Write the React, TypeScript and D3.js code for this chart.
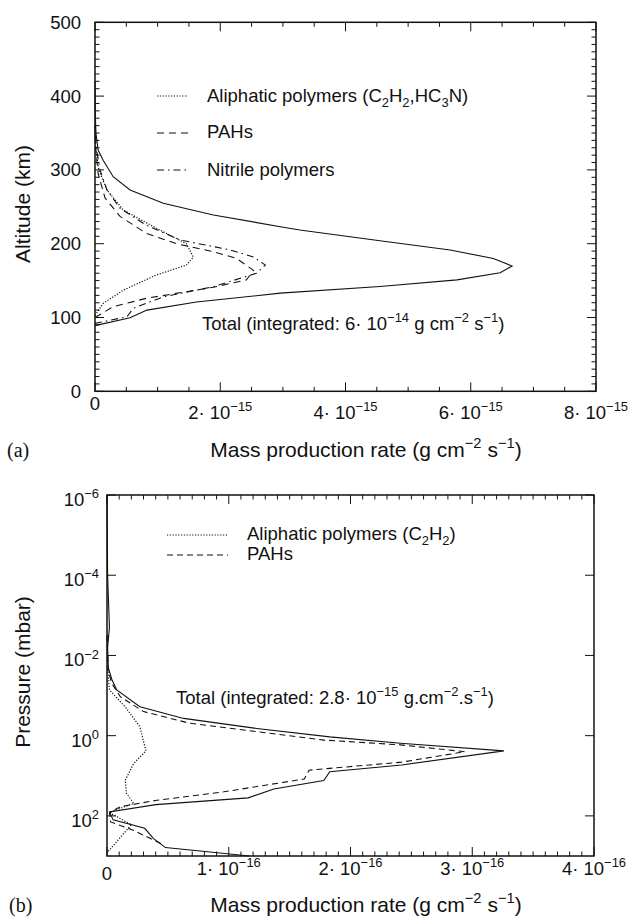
import React from 'react';
import * as d3 from 'd3';

// ---------- Panel (a): altitude vs mass production rate (units 1e-15 g cm-2 s-1) ----------
const altTicksA = [0, 100, 200, 300, 400, 500];
const rateTicksA = [0, 2, 4, 6, 8];

const totalA_rate = [0, 0.56, 0.83, 1.62, 2.96, 4.55, 5.78, 6.47, 6.66, 6.36, 5.67, 4.55, 3.27, 2.96, 1.89, 1.09, 0.56, 0.29, 0.13, 0.05, 0.015, 0.003, 0];
const totalA_alt = [89, 99.7, 110, 121, 133, 142, 151, 160.7, 169.8, 180, 191.5, 204, 218.5, 223, 239, 254.7, 272.8, 290.8, 313, 327, 350, 380, 420];

const nitrileA_rate = [0, 0.51, 0.61, 1.09, 1.89, 2.58, 2.72, 2.53, 2.16, 1.36, 0.82, 0.4, 0.19, 0.08, 0.02, 0];
const nitrileA_alt = [92, 101, 112.5, 128, 141.7, 160, 171, 182, 191.5, 205, 225, 248, 273, 300, 330, 360];

const pahA_rate = [0, 0.29, 0.82, 1.89, 2.42, 2.53, 2.26, 1.9, 1.3, 0.82, 0.4, 0.16, 0.05, 0.01, 0];
const pahA_alt = [100, 114.6, 126, 141, 151, 164, 180, 189, 200, 214, 237, 262, 295, 330, 360];

const aliphA_rate = [0, 0.13, 0.45, 0.98, 1.46, 1.57, 1.46, 0.98, 0.45, 0.19, 0.06, 0.01, 0];
const aliphA_alt = [103, 119, 137, 157.6, 171, 182, 200, 221, 245.7, 273, 300, 330, 360];

// ---------- Panel (b): pressure vs mass production rate (units 1e-16 g cm-2 s-1) ----------
const presTicksB = [-6, -4, -2, 0, 2]; // log10 mbar
const rateTicksB = [0, 1, 2, 3, 4];

const totalB_rate = [0, 0.005, 0.02, 0.005, 0.01, 0.04, 0.08, 0.27, 0.63, 1.23, 1.83, 2.41, 3.26, 2.42, 1.83, 1.78, 1.37, 1.16, 0.4, 0.02, 0.05, 0.31, 0.38, 0.48, 1.17];
const totalB_logP = [-6, -4, -2.7, -2.2, -1.7, -1.4, -1.14, -0.72, -0.43, -0.18, 0.03, 0.19, 0.38, 0.73, 0.9, 1.12, 1.33, 1.55, 1.72, 1.9, 2.1, 2.31, 2.56, 2.79, 3.0];

const pahB_rate = [0, 0.01, 0.04, 0.11, 0.3, 0.68, 1.23, 1.78, 2.41, 2.94, 2.42, 1.66, 1.62, 0.96, 0.41, 0.11, 0.02, 0.03, 0.21, 0.45];
const pahB_logP = [-2.5, -1.6, -1.3, -0.97, -0.6, -0.31, -0.1, 0.11, 0.23, 0.4, 0.66, 0.86, 1.08, 1.4, 1.61, 1.77, 1.92, 2.15, 2.35, 2.7];

const aliphB_rate = [0, 0.01, 0.02, 0.16, 0.27, 0.32, 0.22, 0.15, 0.16, 0.22, 0.1, 0.02, 0.2, 0.12, 0];
const aliphB_logP = [-2.5, -1.5, -1.14, -0.68, -0.22, 0.38, 0.69, 1.11, 1.44, 1.69, 1.82, 1.92, 2.22, 2.5, 2.92];

const FONT = 'Liberation Sans, Arial, Helvetica, sans-serif';
const SERIF = 'Liberation Serif, Times New Roman, serif';

type Part = { t: string; sup?: boolean; sub?: boolean };

function RichText({ x, y, parts, size, anchor = 'start', transform }: { x: number; y: number; parts: Part[]; size: number; anchor?: string; transform?: string }) {
  let cur = 0;
  const small = size * 0.7;
  return (
    <text x={x} y={y} fontSize={size} fontFamily={FONT} textAnchor={anchor} transform={transform} fill="#111">
      {parts.map((p, i) => {
        const target = p.sup ? -size * 0.42 : p.sub ? size * 0.25 : 0;
        const dy = target - cur;
        cur = target;
        return (
          <tspan key={i} dy={dy} fontSize={p.sup || p.sub ? small : size}>
            {p.t}
          </tspan>
        );
      })}
    </text>
  );
}

const DASH = '7,5';
const DOT = '1.2,1.6';
const DASHDOT = '7,4,1.5,4';

export default function App() {
  const xA = d3.scaleLinear().domain([0, 8]).range([95, 596]);
  const yA = d3.scaleLinear().domain([0, 500]).range([391.3, 22.3]);
  const xB = d3.scaleLinear().domain([0, 4]).range([107, 594]);
  const yB = d3.scaleLog().domain([1e-6, 1e3]).range([495, 856]);

  const lineA = d3.line<[number, number]>().x((d) => xA(d[0])).y((d) => yA(d[1]));
  const lineB = d3.line<[number, number]>().x((d) => xB(d[0])).y((d) => yB(Math.pow(10, d[1])));

  const zip = (r: number[], a: number[]) => r.map((v, i) => [v, a[i]] as [number, number]);

  const minorA_x = d3.range(0, 8.001, 0.5);
  const minorA_y = d3.range(0, 500.1, 10);
  const minorB_x = d3.range(0, 4.001, 0.1);

  const [xa0, xa1] = xA.range();
  const [ya0, ya1] = yA.range();
  const [xb0, xb1] = xB.range();
  const [yb0, yb1] = yB.range();

  const tickLen = 9;
  const minorLen = 4.5;
  const TS = 18.5; // tick label size
  const TT = 21; // axis title size
  const AN = 18.5; // annotation size

  const xTitle: Part[] = [{ t: 'Mass production rate (g cm' }, { t: '−2', sup: true }, { t: ' s' }, { t: '−1', sup: true }, { t: ')' }];

  return (
    <svg width={629} height={920} style={{ position: 'absolute', left: 0, top: 0, background: '#fff' }}>
      <rect x={0} y={0} width={629} height={920} fill="#fff" />

      {/* ===================== Panel (a) ===================== */}
      <g stroke="#111" strokeWidth={1}>
        {minorA_x.map((v, i) => {
          const major = Math.abs(v / 2 - Math.round(v / 2)) < 1e-6;
          const L = major ? tickLen : minorLen;
          return (
            <g key={'ax' + i}>
              <line x1={xA(v)} x2={xA(v)} y1={ya0} y2={ya0 - L} />
              <line x1={xA(v)} x2={xA(v)} y1={ya1} y2={ya1 + L} />
            </g>
          );
        })}
        {minorA_y.map((v, i) => {
          const major = v % 100 === 0;
          const L = major ? tickLen : minorLen;
          return (
            <g key={'ay' + i}>
              <line x1={xa0} x2={xa0 + L} y1={yA(v)} y2={yA(v)} />
              <line x1={xa1} x2={xa1 - L} y1={yA(v)} y2={yA(v)} />
            </g>
          );
        })}
      </g>

      <g fill="none" stroke="#111" strokeWidth={1.1}>
        <path d={lineA(zip(totalA_rate, totalA_alt)) || ''} />
        <path d={lineA(zip(nitrileA_rate, nitrileA_alt)) || ''} strokeDasharray={DASHDOT} />
        <path d={lineA(zip(pahA_rate, pahA_alt)) || ''} strokeDasharray={DASH} />
        <path d={lineA(zip(aliphA_rate, aliphA_alt)) || ''} strokeDasharray={DOT} strokeWidth={1.2} />
      </g>

      <rect x={xa0} y={ya1} width={xa1 - xa0} height={ya0 - ya1} fill="none" stroke="#111" strokeWidth={1.5} />

      {altTicksA.map((v) => (
        <text key={'al' + v} x={81} y={yA(v) + 6.5} fontSize={TS} fontFamily={FONT} textAnchor="end" fill="#111">
          {v}
        </text>
      ))}
      {rateTicksA.map((v) =>
        v === 0 ? (
          <text key="ra0" x={xA(0)} y={410} fontSize={TS} fontFamily={FONT} textAnchor="middle" fill="#111">0</text>
        ) : (
          <RichText key={'ra' + v} x={xA(v)} y={419} size={TS} anchor="middle" parts={[{ t: `${v}· 10` }, { t: '−15', sup: true }]} />
        )
      )}

      <RichText x={366} y={457} size={TT} anchor="middle" parts={xTitle} />
      <text x={7} y={457} fontSize={20} fontFamily={SERIF} fill="#111">(a)</text>
      <text transform={`translate(30, ${204}) rotate(-90)`} fontSize={TT} fontFamily={FONT} textAnchor="middle" fill="#111">Altitude (km)</text>

      {/* legend a */}
      <g stroke="#111" strokeWidth={1.1}>
        <line x1={157} x2={188} y1={96} y2={96} strokeDasharray={DOT} strokeWidth={1.2} />
        <line x1={157} x2={188} y1={133} y2={133} strokeDasharray={DASH} />
        <line x1={157} x2={188} y1={170} y2={170} strokeDasharray={DASHDOT} />
      </g>
      <RichText x={207} y={102} size={AN} parts={[{ t: 'Aliphatic polymers (C' }, { t: '2', sub: true }, { t: 'H' }, { t: '2', sub: true }, { t: ',HC' }, { t: '3', sub: true }, { t: 'N)' }]} />
      <RichText x={207} y={138} size={AN} parts={[{ t: 'PAHs' }]} />
      <RichText x={207} y={176} size={AN} parts={[{ t: 'Nitrile polymers' }]} />

      <RichText x={202} y={330} size={AN} parts={[{ t: 'Total (integrated: 6· 10' }, { t: '−14', sup: true }, { t: ' g cm' }, { t: '−2', sup: true }, { t: ' s' }, { t: '−1', sup: true }, { t: ')' }]} />

      {/* ===================== Panel (b) ===================== */}
      <g stroke="#111" strokeWidth={1}>
        {minorB_x.map((v, i) => {
          const major = Math.abs(v - Math.round(v)) < 1e-6;
          const L = major ? tickLen : minorLen;
          return (
            <g key={'bx' + i}>
              <line x1={xB(v)} x2={xB(v)} y1={yb1} y2={yb1 - L} />
              <line x1={xB(v)} x2={xB(v)} y1={yb0} y2={yb0 + L} />
            </g>
          );
        })}
        {presTicksB.map((e) => (
          <g key={'by' + e}>
            <line x1={xb0} x2={xb0 + tickLen} y1={yB(Math.pow(10, e))} y2={yB(Math.pow(10, e))} />
            <line x1={xb1} x2={xb1 - tickLen} y1={yB(Math.pow(10, e))} y2={yB(Math.pow(10, e))} />
          </g>
        ))}
      </g>

      <g fill="none" stroke="#111" strokeWidth={1.1}>
        <path d={lineB(zip(totalB_rate, totalB_logP)) || ''} />
        <path d={lineB(zip(pahB_rate, pahB_logP)) || ''} strokeDasharray="6,4" />
        <path d={lineB(zip(aliphB_rate, aliphB_logP)) || ''} strokeDasharray={DOT} strokeWidth={1.2} />
      </g>

      <rect x={xb0} y={yb0} width={xb1 - xb0} height={yb1 - yb0} fill="none" stroke="#111" strokeWidth={1.5} />

      {presTicksB.map((e) => (
        <RichText key={'pl' + e} x={99} y={yB(Math.pow(10, e)) + 11} size={TS} anchor="end" parts={[{ t: '10' }, { t: e < 0 ? `−${-e}` : `${e}`, sup: true }]} />
      ))}
      {rateTicksB.map((v) =>
        v === 0 ? (
          <text key="rb0" x={xB(0)} y={880} fontSize={TS} fontFamily={FONT} textAnchor="middle" fill="#111">0</text>
        ) : (
          <RichText key={'rb' + v} x={xB(v)} y={875} size={TS} anchor="middle" parts={[{ t: `${v}· 10` }, { t: '−16', sup: true }]} />
        )
      )}

      <RichText x={366} y={912} size={TT} anchor="middle" parts={xTitle} />
      <text x={9} y={912} fontSize={20} fontFamily={SERIF} fill="#111">(b)</text>
      <text transform={`translate(30, ${672}) rotate(-90)`} fontSize={TT} fontFamily={FONT} textAnchor="middle" fill="#111">Pressure (mbar)</text>

      {/* legend b */}
      <g stroke="#111" strokeWidth={1.1}>
        <line x1={167} x2={228} y1={535} y2={535} strokeDasharray={DOT} strokeWidth={1.2} />
        <line x1={167} x2={228} y1={555} y2={555} strokeDasharray="6,4" />
      </g>
      <RichText x={247} y={540} size={AN} parts={[{ t: 'Aliphatic polymers (C' }, { t: '2', sub: true }, { t: 'H' }, { t: '2', sub: true }, { t: ')' }]} />
      <RichText x={247} y={560} size={AN} parts={[{ t: 'PAHs' }]} />

      <RichText x={176} y={704} size={AN} parts={[{ t: 'Total (integrated: 2.8· 10' }, { t: '−15', sup: true }, { t: ' g.cm' }, { t: '−2', sup: true }, { t: '.s' }, { t: '−1', sup: true }, { t: ')' }]} />
    </svg>
  );
}
